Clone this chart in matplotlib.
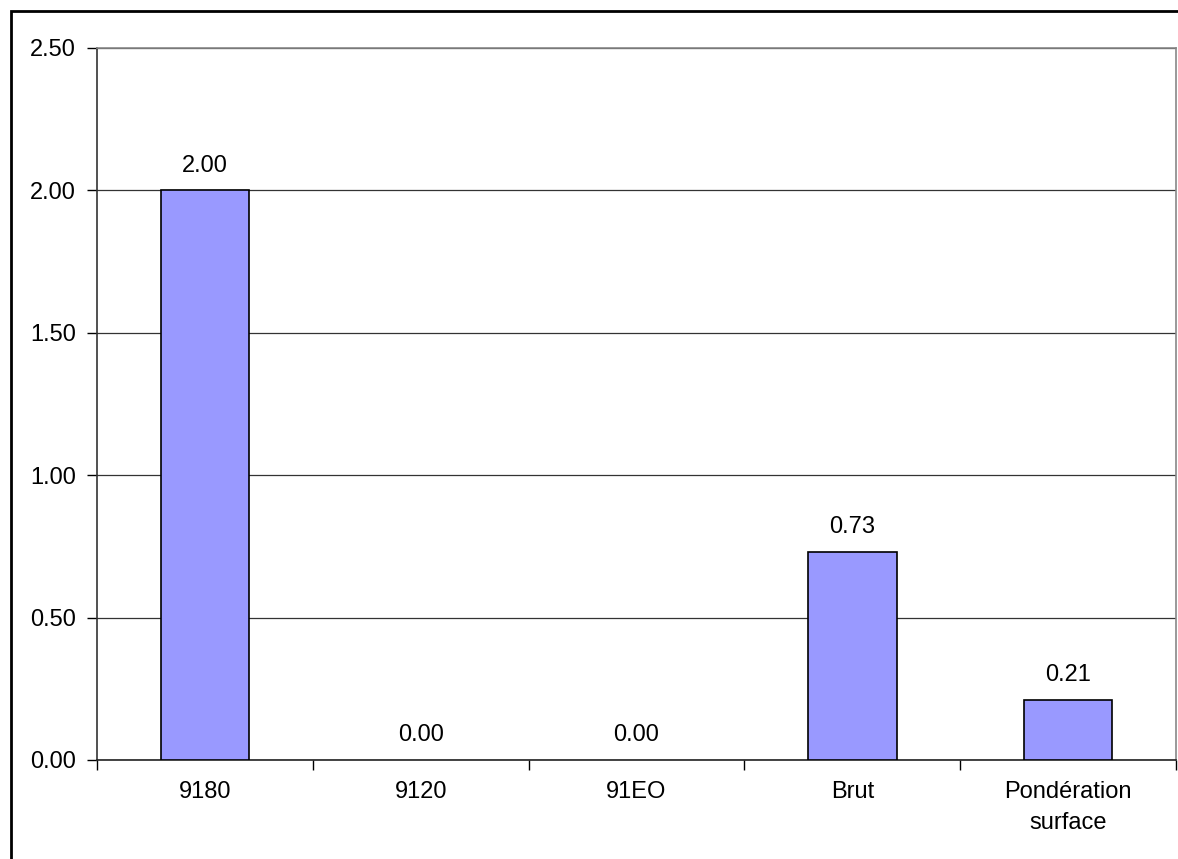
import matplotlib
matplotlib.use("Agg")
import matplotlib.pyplot as plt
from matplotlib.patches import Rectangle

categories = ["9180", "9120", "91EO", "Brut", "Pondération\nsurface"]
values = [2.00, 0.00, 0.00, 0.73, 0.21]
yticks = [0.0, 0.5, 1.0, 1.5, 2.0, 2.5]

plt.rcParams['font.family'] = ['Liberation Sans', 'DejaVu Sans']
W, H = 1178, 859
fig = plt.figure(figsize=(W / 100, H / 100), dpi=100)
fig.patch.set_facecolor('white')

# outer chart border (top and left visible)
fig.patches.append(Rectangle((10.5 / W, -0.1), 1.2, 1 - 10.5 / H + 0.1,
                             transform=fig.transFigure, fill=False,
                             edgecolor='black', linewidth=2))

left, right, top, bottom = 97, 1176, 48, 760
ax = fig.add_axes([left / W, 1 - bottom / H, (right - left) / W, (bottom - top) / H])

FS = 17
x = list(range(len(categories)))
lws = [1.2 if v > 0 else 0 for v in values]
ax.bar(x, values, width=0.41, color='#9999FF', edgecolor='black', linewidth=lws, zorder=3)
for xi, v in zip(x, values):
    ax.annotate(f"{v:.2f}", (xi, v), xytext=(0, 10), textcoords='offset points',
                ha='center', va='bottom', fontsize=FS)

ax.set_xlim(-0.5, len(categories) - 0.5)
ax.set_ylim(0, 2.5)
ax.set_yticks(yticks)
ax.set_yticklabels([f"{t:.2f}" for t in yticks], fontsize=FS)
ax.set_xticks(x)
ax.set_xticklabels(categories, fontsize=FS, linespacing=1.55)
ax.tick_params(axis='x', length=0, pad=15)
ax.set_xticks([i - 0.5 for i in range(len(categories) + 1)], minor=True)
ax.tick_params(axis='x', which='minor', length=7, width=1, color='black', direction='out')
ax.tick_params(axis='y', length=7, width=1, color='black', direction='out', pad=8)
ax.yaxis.grid(True, color='#333333', linewidth=0.9, zorder=0)
ax.set_axisbelow(True)
ax.spines['left'].set_color('#333333')
ax.spines['bottom'].set_color('#222222')
ax.spines['top'].set_color('#888888')
ax.spines['right'].set_color('#888888')
for s in ax.spines.values():
    s.set_linewidth(1.2)

fig.savefig("out.png", dpi=100)
